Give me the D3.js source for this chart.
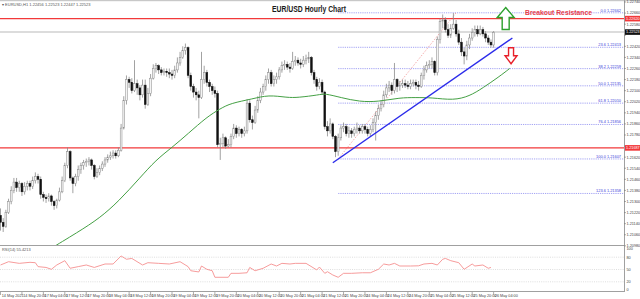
<!DOCTYPE html>
<html>
<head>
<meta charset="utf-8">
<script src="https://cdn.jsdelivr.net/npm/d3@7"></script>
<style>
  body { margin: 0; background: #fff; }
  svg { display: block; font-family: "Liberation Sans", Arial, sans-serif; }
</style>
</head>
<body>
<svg id="chart" width="640" height="299"></svg>
<script>
var symbolInfo = 'EURUSD,H1  1.22456 1.22523 1.22447 1.22523';
var title = 'EUR/USD Hourly Chart';
var note = 'Breakout Resistance';

// hourly bars from 14 May 12:00 as [high, low, close]; a bar opens at the previous close
var firstOpen = 1.2120;
var candles = [
  [1.2125,1.2109,1.2115],[1.2118,1.2108,1.2112],[1.2124,1.2111,1.2122],[1.2132,1.2121,1.2130],[1.2141,1.2128,1.2138],
  [1.2147,1.2136,1.2144],[1.2147,1.2137,1.2140],[1.2145,1.2137,1.2143],[1.2144,1.2134,1.2137],[1.2144,1.2135,1.2141],
  [1.2145,1.2138,1.2143],[1.2145,1.2138,1.2141],[1.2148,1.2139,1.2145],[1.2151,1.2143,1.2148],[1.2150,1.2143,1.2146],
  [1.2148,1.2132,1.2135],[1.2137,1.2130,1.2133],[1.2135,1.2129,1.2132],[1.2136,1.2130,1.2134],[1.2135,1.2127,1.2130],
  [1.2131,1.2124,1.2127],[1.2132,1.2125,1.2131],[1.2140,1.2130,1.2137],[1.2148,1.2136,1.2145],[1.2158,1.2144,1.2156],
  [1.2169,1.2154,1.2166],[1.2167,1.2145,1.2147],[1.2148,1.2136,1.2143],[1.2150,1.2141,1.2148],[1.2156,1.2145,1.2153],
  [1.2158,1.2150,1.2156],[1.2160,1.2153,1.2158],[1.2161,1.2155,1.2159],[1.2162,1.2156,1.2160],[1.2161,1.2153,1.2156],
  [1.2157,1.2146,1.2148],[1.2154,1.2147,1.2151],[1.2156,1.2149,1.2154],[1.2159,1.2152,1.2157],[1.2162,1.2155,1.2160],
  [1.2164,1.2158,1.2162],[1.2166,1.2160,1.2163],[1.2167,1.2161,1.2165],[1.2167,1.2161,1.2163],[1.2169,1.2162,1.2167],
  [1.2186,1.2166,1.2183],[1.2206,1.2182,1.2203],[1.2221,1.2200,1.2218],[1.2220,1.2212,1.2216],[1.2219,1.2208,1.2210],
  [1.2232,1.2209,1.2215],[1.2218,1.2207,1.2212],[1.2214,1.2203,1.2207],[1.2218,1.2205,1.2214],[1.2218,1.2197,1.2200],
  [1.2212,1.2199,1.2208],[1.2222,1.2206,1.2219],[1.2229,1.2218,1.2226],[1.2230,1.2223,1.2228],[1.2229,1.2222,1.2225],
  [1.2227,1.2221,1.2223],[1.2226,1.2221,1.2224],[1.2226,1.2220,1.2223],[1.2226,1.2219,1.2222],[1.2225,1.2218,1.2221],
  [1.2228,1.2219,1.2225],[1.2234,1.2223,1.2230],[1.2238,1.2228,1.2234],[1.2242,1.2233,1.2239],[1.2244,1.2236,1.2241],
  [1.2242,1.2219,1.2221],[1.2223,1.2210,1.2213],[1.2215,1.2205,1.2209],[1.2212,1.2203,1.2207],[1.2210,1.2190,1.2205],
  [1.2238,1.2204,1.2218],[1.2228,1.2215,1.2223],[1.2225,1.2213,1.2216],[1.2218,1.2209,1.2213],[1.2215,1.2207,1.2210],
  [1.2213,1.2205,1.2208],[1.2210,1.2169,1.2171],[1.2176,1.2160,1.2172],[1.2179,1.2169,1.2176],[1.2177,1.2168,1.2170],
  [1.2175,1.2169,1.2171],[1.2179,1.2169,1.2177],[1.2186,1.2175,1.2183],[1.2185,1.2176,1.2179],[1.2184,1.2177,1.2182],
  [1.2183,1.2176,1.2179],[1.2184,1.2177,1.2181],[1.2204,1.2179,1.2201],[1.2203,1.2187,1.2189],[1.2192,1.2182,1.2187],
  [1.2199,1.2186,1.2196],[1.2206,1.2194,1.2203],[1.2212,1.2201,1.2209],[1.2215,1.2207,1.2213],[1.2221,1.2210,1.2218],
  [1.2226,1.2215,1.2223],[1.2225,1.2213,1.2215],[1.2221,1.2213,1.2218],[1.2223,1.2215,1.2220],[1.2227,1.2218,1.2225],
  [1.2231,1.2223,1.2228],[1.2232,1.2225,1.2229],[1.2231,1.2225,1.2227],[1.2230,1.2223,1.2226],[1.2238,1.2225,1.2231],
  [1.2235,1.2228,1.2232],[1.2234,1.2228,1.2230],[1.2233,1.2226,1.2229],[1.2235,1.2227,1.2232],[1.2236,1.2229,1.2233],
  [1.2238,1.2230,1.2234],[1.2235,1.2221,1.2223],[1.2225,1.2215,1.2218],[1.2220,1.2210,1.2213],[1.2219,1.2211,1.2216],
  [1.2218,1.2207,1.2209],[1.2210,1.2182,1.2184],[1.2188,1.2177,1.2181],[1.2190,1.2179,1.2186],[1.2187,1.2175,1.2177],
  [1.2178,1.2162,1.2166],[1.2179,1.2163,1.2176],[1.2185,1.2174,1.2183],[1.2187,1.2180,1.2184],[1.2186,1.2177,1.2179],
  [1.2184,1.2176,1.2181],[1.2183,1.2176,1.2179],[1.2184,1.2177,1.2182],[1.2187,1.2179,1.2183],[1.2185,1.2179,1.2181],
  [1.2186,1.2179,1.2184],[1.2186,1.2179,1.2182],[1.2184,1.2177,1.2179],[1.2185,1.2177,1.2182],[1.2190,1.2180,1.2187],
  [1.2195,1.2174,1.2192],[1.2200,1.2189,1.2197],[1.2203,1.2195,1.2200],[1.2210,1.2198,1.2207],[1.2215,1.2205,1.2212],
  [1.2217,1.2209,1.2214],[1.2216,1.2207,1.2210],[1.2230,1.2208,1.2218],[1.2219,1.2209,1.2213],[1.2217,1.2210,1.2214],
  [1.2218,1.2212,1.2215],[1.2218,1.2212,1.2214],[1.2217,1.2211,1.2213],[1.2218,1.2211,1.2215],[1.2218,1.2213,1.2216],
  [1.2218,1.2211,1.2214],[1.2217,1.2210,1.2213],[1.2223,1.2212,1.2221],[1.2228,1.2218,1.2225],[1.2231,1.2223,1.2228],
  [1.2232,1.2226,1.2229],[1.2234,1.2226,1.2231],[1.2232,1.2221,1.2223],[1.2249,1.2221,1.2247],[1.2262,1.2244,1.2260],
  [1.2265,1.2255,1.2261],[1.2263,1.2252,1.2254],[1.2258,1.2248,1.2250],[1.2258,1.2248,1.2255],[1.2266,1.2254,1.2258],
  [1.2261,1.2249,1.2251],[1.2254,1.2243,1.2245],[1.2248,1.2235,1.2238],[1.2241,1.2229,1.2235],[1.2246,1.2232,1.2243],
  [1.2251,1.2240,1.2248],[1.2255,1.2246,1.2252],[1.2257,1.2249,1.2254],[1.2257,1.2249,1.2251],[1.2257,1.2250,1.2254],
  [1.2256,1.2249,1.2251],[1.2253,1.2245,1.2248],[1.2250,1.2243,1.2245],[1.2247,1.2241,1.2243],[1.2253,1.2241,1.2252]
];

// moving average, read as [bar, price]
var maPoints = [
  [17,1.2094],[29,1.2108],[37,1.2118],[44,1.2130],[52,1.2147],[58,1.2160],[64,1.2169],[70,1.2179],
  [77,1.2191],[82,1.2197],[86,1.2201],[94,1.2204],[100,1.2207],[107,1.2205],[111,1.2205],[119,1.2207],
  [121,1.2208],[127,1.2205],[134,1.2202],[141,1.2202],[149,1.2205],[155,1.2205],[161,1.2205],[169,1.2203],
  [175,1.2206],[180,1.2212],[186,1.2220],[190,1.2226]
];

// RSI(14), read as [bar, value]
var rsiPoints = [
  [0,61],[3,69],[7,65],[11,67.5],[13,66.6],[14,57],[17,55],[19,50.5],[21,61],[24,71.5],[26,53],[29,57],
  [32,61],[35,55],[39,63.4],[42,63.4],[45,83],[47,75],[49,77],[53,61],[55,66.6],[59,65],[63,63.4],[67,69],
  [70,57],[71,47],[74,44],[75,58.5],[77,50.5],[79,47],[80,31],[85,31],[86,40.7],[89,40.7],[92,42],[93,55],
  [95,47],[98,53],[101,63.4],[103,58.5],[105,65],[108,63.4],[110,65],[114,65],[118,49],[119,56],[121,40.7],
  [122,44.6],[124,36.6],[126,31],[128,40.7],[131,40.7],[135,42],[138,42],[141,50.5],[143,63.4],[145,61],
  [147,65],[149,58.5],[153,58.5],[156,59],[158,63.4],[161,65],[163,61],[165,75],[166,77],[168,71.5],
  [171,66.6],[173,50.5],[176,63.4],[177,58.5],[180,61],[182,53],[183,55]
];
var rsiLabel = 'RSI(14) 55.4213';

var priceTicks = ['1.22740','1.22660','1.22580','1.22500','1.22420','1.22340','1.22260','1.22180','1.22100',
  '1.22020','1.21940','1.21860','1.21780','1.21700','1.21620','1.21540','1.21460','1.21380','1.21300',
  '1.21220','1.21140','1.21060','1.20980'];
var rsiTicks = [100, 80, 50, 20, 0];
var rsiLevels = [80, 50, 20];
var timeLabels = ['14 May 2021','14 May 20:00','17 May 04:00','17 May 12:00','17 May 20:00','18 May 04:00',
  '18 May 12:00','18 May 20:00','19 May 04:00','19 May 12:00','19 May 20:00','20 May 04:00','20 May 12:00',
  '20 May 20:00','21 May 04:00','21 May 12:00','21 May 20:00','24 May 04:00','24 May 12:00','24 May 20:00',
  '25 May 04:00','25 May 12:00','25 May 20:00','26 May 04:00'];

// fibonacci retracement drawn from the 21 May low to the 25 May high
var fibLevels = [['0.0',1.22662],['23.6',1.22413],['38.2',1.22259],['50.0',1.22135],['61.8',1.22010],
  ['76.4',1.21856],['100.0',1.21607],['123.6',1.21358]];
var fibStart = 126;
var fibAnchor = [[126,1.21607],[170,1.22662]];
var trendLine = [[124,1.2158],[191,1.2248]];
var resistance = 1.22620;
var support = 1.21687;
var lastPrice = 1.22523;
var arrows = [{bar: 188.5, price: 1.2270, dir: 'up', color: '#2ca02c'},
              {bar: 190.5, price: 1.2241, dir: 'down', color: '#e8202a'}];

var svg = d3.select('#chart');
var W = 624, mainTop = 0, mainBottom = 245, rsiTop = 247, rsiBottom = 291;

var x = d3.scaleLinear().domain([0, 1]).range([0.5, 3.18]);
var y = d3.scaleLinear().domain([1.20986, 1.22740]).range([245, 2]);
var yr = d3.scaleLinear().domain([0, 100]).range([290, 249]);

var defs = svg.append('defs');
defs.append('clipPath').attr('id', 'clipMain')
  .append('rect').attr('x', 0).attr('y', mainTop).attr('width', W).attr('height', mainBottom - mainTop);
defs.append('clipPath').attr('id', 'clipRsi')
  .append('rect').attr('x', 0).attr('y', rsiTop).attr('width', W).attr('height', rsiBottom - rsiTop);

//frames
svg.append('rect').attr('x', 0).attr('y', 0).attr('width', 640).attr('height', 1.2).attr('fill', '#c8c8c8');
svg.append('line').attr('x1', 0).attr('x2', W).attr('y1', mainBottom + 0.5).attr('y2', mainBottom + 0.5)
  .attr('stroke', '#a0a0a0').attr('stroke-width', 1);
svg.append('line').attr('x1', 0).attr('x2', W).attr('y1', rsiBottom + 0.5).attr('y2', rsiBottom + 0.5)
  .attr('stroke', '#a0a0a0').attr('stroke-width', 1);
svg.append('line').attr('x1', W + 0.5).attr('x2', W + 0.5).attr('y1', 0).attr('y2', rsiBottom + 1)
  .attr('stroke', '#a0a0a0').attr('stroke-width', 1);

var main = svg.append('g').attr('clip-path', 'url(#clipMain)');

//current price line
main.append('line').attr('x1', 0).attr('x2', W).attr('y1', y(lastPrice)).attr('y2', y(lastPrice))
  .attr('stroke', '#d0d0d0').attr('stroke-width', 1.6);

//fibonacci levels
main.selectAll('.fib').data(fibLevels).enter().append('line')
  .attr('x1', x(fibStart)).attr('x2', W)
  .attr('y1', function(d) { return y(d[1]); }).attr('y2', function(d) { return y(d[1]); })
  .attr('stroke', '#8c8cf0').attr('stroke-width', 0.8).attr('stroke-dasharray', '1.2,1');
main.selectAll('.fibText').data(fibLevels).enter().append('text')
  .attr('x', W - 3).attr('y', function(d) { return y(d[1]) - 1; })
  .attr('text-anchor', 'end').attr('font-size', 3.9).attr('fill', '#3b3bd8')
  .text(function(d) { return d[0] + ' ' + d[1].toFixed(5); });
main.append('line')
  .attr('x1', x(fibAnchor[0][0])).attr('y1', y(fibAnchor[0][1]))
  .attr('x2', x(fibAnchor[1][0])).attr('y2', y(fibAnchor[1][1]))
  .attr('stroke', '#f08a8a').attr('stroke-width', 0.7).attr('stroke-dasharray', '1.5,1.5');

//support and resistance
[resistance, support].forEach(function(p) {
  main.append('line').attr('x1', 0).attr('x2', W).attr('y1', y(p)).attr('y2', y(p))
    .attr('stroke', '#f2383a').attr('stroke-width', 1.3);
});

//candles
var bars = [];
var prev = firstOpen;
candles.forEach(function(c, i) {
  bars.push({i: i, o: prev, h: c[0], l: c[1], c: c[2]});
  prev = c[2];
});
var cg = main.append('g');
cg.selectAll('.wick').data(bars).enter().append('line')
  .attr('x1', function(d) { return x(d.i); }).attr('x2', function(d) { return x(d.i); })
  .attr('y1', function(d) { return y(d.h); }).attr('y2', function(d) { return y(d.l); })
  .attr('stroke', '#8a8a8a').attr('stroke-width', 0.8);
cg.selectAll('.body').data(bars).enter().append('rect')
  .attr('x', function(d) { return x(d.i) - 0.9; })
  .attr('width', 1.8)
  .attr('y', function(d) { return y(Math.max(d.o, d.c)); })
  .attr('height', function(d) { return Math.max(0.8, Math.abs(y(d.o) - y(d.c))); })
  .attr('fill', function(d) { return d.c >= d.o ? '#f4f4f4' : '#111'; })
  .attr('stroke', function(d) { return d.c >= d.o ? '#8a8a8a' : '#111'; })
  .attr('stroke-width', 0.5);

//moving average
main.append('path').datum(maPoints)
  .attr('d', d3.line().x(function(d) { return x(d[0]); }).y(function(d) { return y(d[1]); }).curve(d3.curveBasis))
  .attr('fill', 'none').attr('stroke', '#44a044').attr('stroke-width', 1);

//trend line
main.append('line')
  .attr('x1', x(trendLine[0][0])).attr('y1', y(trendLine[0][1]))
  .attr('x2', x(trendLine[1][0])).attr('y2', y(trendLine[1][1]))
  .attr('stroke', '#2b2bea').attr('stroke-width', 1.4);

//arrows
arrows.forEach(function(a) {
  var cx = x(a.bar), ty = y(a.price), p;
  if (a.dir === 'up') {
    p = [[cx, ty], [cx + 8.5, ty + 10], [cx + 3.5, ty + 10], [cx + 3.5, ty + 22],
         [cx - 3.5, ty + 22], [cx - 3.5, ty + 10], [cx - 8.5, ty + 10]];
  } else {
    p = [[cx - 2.5, ty], [cx + 2.5, ty], [cx + 2.5, ty + 8], [cx + 6, ty + 8],
         [cx, ty + 16], [cx - 6, ty + 8], [cx - 2.5, ty + 8]];
  }
  main.append('path').attr('d', d3.line()(p) + 'Z')
    .attr('fill', '#fff').attr('stroke', a.color).attr('stroke-width', 1.4)
    .attr('stroke-linejoin', 'miter');
});

//texts
svg.append('text').attr('x', 2).attr('y', 5.5).attr('font-size', 4).attr('fill', '#555')
  .text('\u25BE ' + symbolInfo);
svg.append('text').attr('x', 272).attr('y', 11.5)
  .attr('font-size', 9).attr('font-weight', 'bold').attr('fill', '#1a1a1a')
  .attr('textLength', 74).attr('lengthAdjust', 'spacingAndGlyphs')
  .text(title);
svg.append('text').attr('x', 525).attr('y', 15)
  .attr('font-size', 7.3).attr('font-weight', 'bold').attr('fill', '#e8404a')
  .attr('textLength', 67).attr('lengthAdjust', 'spacingAndGlyphs')
  .text(note);

//price axis
var boxes = [[resistance, '#f2383a'], [lastPrice, '#111'], [support, '#f2383a']];
var pa = svg.append('g');
priceTicks.forEach(function(t) {
  var py = y(+t);
  pa.append('line').attr('x1', W).attr('x2', W + 2).attr('y1', py).attr('y2', py)
    .attr('stroke', '#777').attr('stroke-width', 0.6);
  var hidden = boxes.some(function(b) { return Math.abs(y(b[0]) - py) < 5.5; });
  if (!hidden) {
    pa.append('text').attr('x', W + 2.5).attr('y', py + 1.4).attr('font-size', 3.8).attr('fill', '#444').text(t);
  }
});
boxes.forEach(function(b) {
  var py = y(b[0]);
  pa.append('rect').attr('x', W + 1).attr('y', py - 2.8).attr('width', 15).attr('height', 5.6).attr('fill', b[1]);
  pa.append('text').attr('x', W + 2).attr('y', py + 1.4).attr('font-size', 3.8).attr('fill', '#fff')
    .text(b[0].toFixed(5));
});

//rsi panel
var rsi = svg.append('g').attr('clip-path', 'url(#clipRsi)');
rsi.selectAll('.lvl').data(rsiLevels).enter().append('line')
  .attr('x1', 0).attr('x2', W)
  .attr('y1', function(d) { return yr(d); }).attr('y2', function(d) { return yr(d); })
  .attr('stroke', '#c8c8c8').attr('stroke-width', 0.6).attr('stroke-dasharray', '1,1.2');
rsi.append('path').datum(rsiPoints)
  .attr('d', d3.line().x(function(d) { return x(d[0]); }).y(function(d) { return yr(d[1]); }))
  .attr('fill', 'none').attr('stroke', '#f59090').attr('stroke-width', 0.9);
svg.append('text').attr('x', 2).attr('y', rsiTop + 4).attr('font-size', 3.9).attr('fill', '#555').text(rsiLabel);
rsiTicks.forEach(function(t) {
  svg.append('text').attr('x', W + 2.5).attr('y', yr(t) + 1.4).attr('font-size', 3.8).attr('fill', '#444').text(t);
});

//time axis
var ta = svg.append('g');
timeLabels.forEach(function(t, k) {
  var tx = x(k * 8);
  ta.append('line').attr('x1', tx).attr('x2', tx).attr('y1', rsiBottom + 1).attr('y2', rsiBottom + 4)
    .attr('stroke', '#777').attr('stroke-width', 0.6);
  ta.append('text').attr('x', tx + 1.2).attr('y', rsiBottom + 5.5).attr('font-size', 3.8).attr('fill', '#444').text(t);
});
</script>
</body>
</html>
